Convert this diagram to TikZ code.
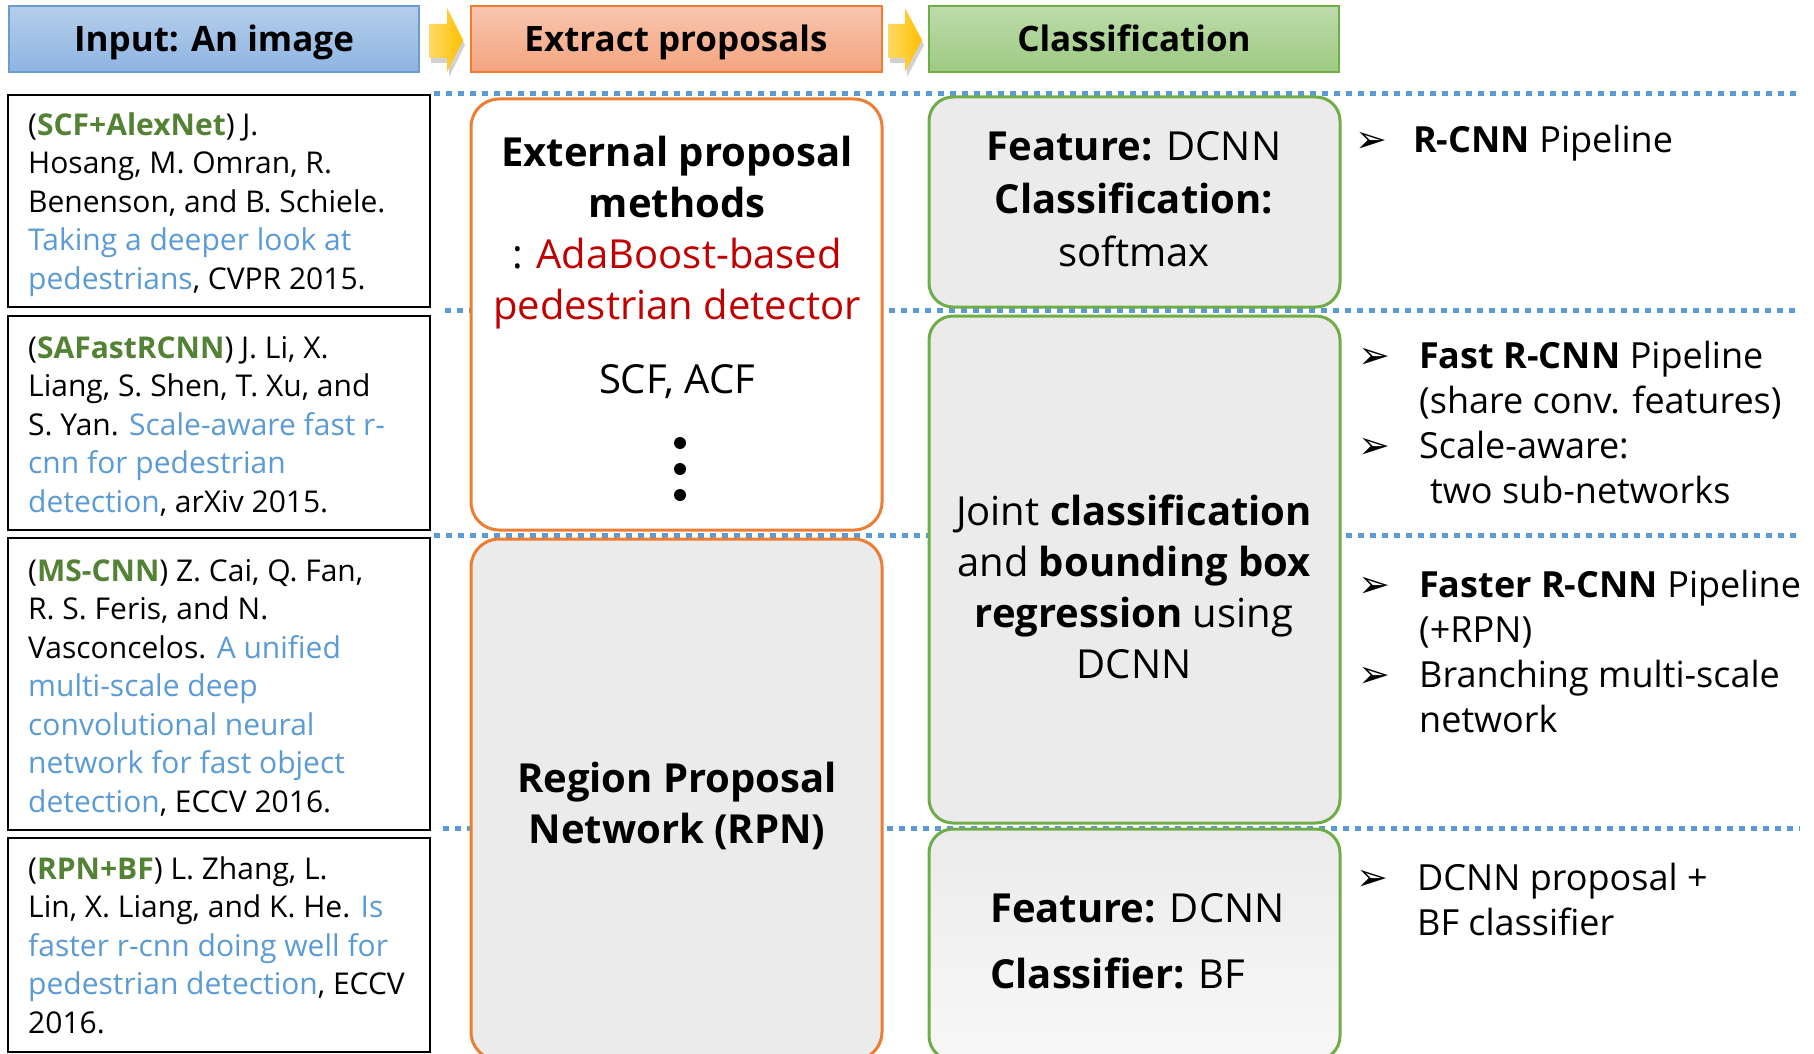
\documentclass[tikz,border=0pt]{standalone}
\usepackage{fontspec}
\setmainfont{Open Sans}
\newfontfamily\symfont{DejaVu Sans}
\definecolor{lnblue}{HTML}{5B9BD5}
\definecolor{citegreen}{HTML}{548235}
\definecolor{linkblue}{HTML}{5B9BD5}
\definecolor{adared}{HTML}{C00000}
\definecolor{orng}{HTML}{ED7D31}
\definecolor{grn}{HTML}{70AD47}
\definecolor{boxgray}{HTML}{EBEBEB}
\definecolor{hblueT}{HTML}{B5CEEB}
\definecolor{hblueB}{HTML}{8EB4E2}
\definecolor{hblueD}{HTML}{6C9BD2}
\definecolor{horT}{HTML}{F8C6AF}
\definecolor{horB}{HTML}{F4A47F}
\definecolor{hgrT}{HTML}{BDDBAB}
\definecolor{hgrB}{HTML}{9DCA82}
\definecolor{arL}{HTML}{FFD966}
\definecolor{arR}{HTML}{FFC000}
\newcommand{\lk}[1]{\textcolor{linkblue}{#1}}
\newcommand{\gk}[1]{\textcolor{citegreen}{\textbf{#1}}}
\begin{document}
\begin{tikzpicture}[x=1pt,y=-1pt,
  sepline/.style={draw=lnblue, line width=5, dash pattern=on 6 off 6},
  hdr/.style={anchor=north west, outer sep=0, inner sep=0, line width=1.5},
  hdrtext/.style={anchor=base, font=\fontsize{35}{44}\selectfont\bfseries},
  citebox/.style={draw=black, line width=2, anchor=north west, outer sep=0, inner sep=0},
  citetext/.style={anchor=north west, inner sep=0, align=left, font=\fontsize{30}{38.5}\selectfont},
  propbox/.style={draw=orng, line width=3, rounded corners=28, anchor=north west, outer sep=0, inner sep=0},
  clsbox/.style={draw=grn, line width=3, rounded corners=24, anchor=north west, outer sep=0, inner sep=0},
  bigtext/.style={inner sep=0, font=\fontsize{40}{51}\selectfont},
  bultext/.style={anchor=north west, inner sep=0, align=left, font=\fontsize{36}{45}\selectfont},
  bulmark/.style={anchor=base west, inner sep=0, font=\symfont\fontsize{38}{40}\selectfont},
  arrowfill/.style={left color=arL, right color=arR, draw=none},
  arrowshadow/.style={fill=black, opacity=0.18, draw=none}
]
\useasboundingbox (0,0) rectangle (1814,1054);
\fill[white] (0,0) rectangle (1814,1054);

% separator lines (behind boxes)
\draw[sepline] (434,94) -- (1800,94);
\draw[sepline] (445,310) -- (1800,310);
\draw[sepline] (434,535) -- (1800,535);
\draw[sepline] (443,828) -- (1800,828);

% header boxes
\node[hdr, draw=hblueD, top color=hblueT, bottom color=hblueB, minimum width=410, minimum height=66] (h1) at (9,6) {};
\node[hdr, draw=orng, top color=horT, bottom color=horB, minimum width=411, minimum height=66] (h2) at (471,6) {};
\node[hdr, draw=grn, top color=hgrT, bottom color=hgrB, minimum width=410, minimum height=66] (h3) at (929,6) {};
\node[hdrtext] (h1t) at (214,52) {Input: An image};
\node[hdrtext] (h2t) at (676,52) {Extract proposals};
\node[hdrtext] (h3t) at (1134,52) {Classification};

% header arrows
\path[arrowshadow] (431,29) -- (449,29) -- (449,13) -- (465,45) -- (449,77) -- (449,63) -- (431,63) -- cycle;
\path[arrowfill] (429,24) -- (447,24) -- (447,8) -- (463,40) -- (447,72) -- (447,58) -- (429,58) -- cycle;
\path[arrowshadow] (890,29) -- (907,29) -- (907,13) -- (924,45) -- (907,77) -- (907,63) -- (890,63) -- cycle;
\path[arrowfill] (888,24) -- (905,24) -- (905,8) -- (922,40) -- (905,72) -- (905,58) -- (888,58) -- cycle;

% citation boxes
\node[citebox, minimum width=422, minimum height=212] (c1) at (8,95) {};
\node[citebox, minimum width=422, minimum height=214] (c2) at (8,316) {};
\node[citebox, minimum width=422, minimum height=292] (c3) at (8,538) {};
\node[citebox, minimum width=422, minimum height=214] (c4) at (8,838) {};

\node[citetext] (c1t) at (28,110) {\rule{0pt}{25pt}(\gk{SCF+AlexNet}) J.\\
Hosang, M. Omran, R.\\
Benenson, and B. Schiele.\\
\lk{Taking a deeper look at}\\
\lk{pedestrians}, CVPR 2015.};
\node[citetext] (c2t) at (28,333) {\rule{0pt}{25pt}(\gk{SAFastRCNN}) J. Li, X.\\
Liang, S. Shen, T. Xu, and\\
S. Yan. \lk{Scale-aware fast r-}\\
\lk{cnn for pedestrian}\\
\lk{detection}, arXiv 2015.};
\node[citetext] (c3t) at (28,556) {\rule{0pt}{25pt}(\gk{MS-CNN}) Z. Cai, Q. Fan,\\
R. S. Feris, and N.\\
Vasconcelos. \lk{A unified}\\
\lk{multi-scale deep}\\
\lk{convolutional neural}\\
\lk{network for fast object}\\
\lk{detection}, ECCV 2016.};
\node[citetext] (c4t) at (28,854) {\rule{0pt}{25pt}(\gk{RPN+BF}) L. Zhang, L.\\
Lin, X. Liang, and K. He. \lk{Is}\\
\lk{faster r-cnn doing well for}\\
\lk{pedestrian detection}, ECCV\\
2016.};

% proposal boxes
\node[propbox, fill=white, minimum width=411, minimum height=431] (ext) at (471,99) {};
\node[propbox, fill=boxgray, minimum width=411, minimum height=521] (rpn) at (471,539) {};
\node[bigtext, anchor=north, align=center] (extt) at (677,134) {\rule{0pt}{32pt}\textbf{External proposal}\\
\textbf{methods}\\
: \textcolor{adared}{AdaBoost-based}\\
\textcolor{adared}{pedestrian detector}};
\node[bigtext, anchor=base] (scf) at (677,393) {SCF, ACF};
\fill (680,443) circle (6);
\fill (680,469) circle (6);
\fill (680,495) circle (6);
\node[bigtext, anchor=north, align=center] (rpnt) at (677,760) {\rule{0pt}{32pt}\textbf{Region Proposal}\\
\textbf{Network (RPN)}};

% classification boxes
\node[clsbox, fill=boxgray, minimum width=411, minimum height=210] (ca) at (929,97) {};
\node[clsbox, fill=boxgray, minimum width=411, minimum height=507] (cb) at (929,316) {};
\node[clsbox, top color=boxgray, bottom color=white!97!black, minimum width=411, minimum height=231] (cc) at (929,829) {};
\node[bigtext, anchor=north, align=center, font=\fontsize{40}{53}\selectfont] (cat) at (1134,128) {\rule{0pt}{32pt}\textbf{Feature:} DCNN\\
\textbf{Classification:}\\
softmax};
\node[bigtext, anchor=north, align=center] (cbt) at (1134,493) {\rule{0pt}{32pt}Joint \textbf{classification}\\
and \textbf{bounding box}\\
\textbf{regression} using\\
DCNN};
\node[bigtext, anchor=north west, align=left, font=\fontsize{40}{66}\selectfont] (cct) at (990,890) {\rule{0pt}{32pt}\textbf{Feature:} DCNN\\
\textbf{Classifier:} BF};

% bullets
\node[bulmark] (b1) at (1355,152) {➢};
\node[bultext] (b1t) at (1413,123) {\rule{0pt}{29pt}\textbf{R-CNN} Pipeline};
\node[bulmark] (b2) at (1358,368) {➢};
\node[bultext] (b2t) at (1419,339) {\rule{0pt}{29pt}\textbf{Fast R-CNN} Pipeline\\
(share conv. features)};
\node[bulmark] (b3) at (1358,458) {➢};
\node[bultext] (b3t) at (1419,429) {\rule{0pt}{29pt}Scale-aware:\\
\hspace*{11pt}two sub-networks};
\node[bulmark] (b4) at (1358,597) {➢};
\node[bultext] (b4t) at (1419,568) {\rule{0pt}{29pt}\textbf{Faster R-CNN} Pipeline\\
(+RPN)};
\node[bulmark] (b5) at (1358,687) {➢};
\node[bultext] (b5t) at (1419,658) {\rule{0pt}{29pt}Branching multi-scale\\
network};
\node[bulmark] (b6) at (1356,890) {➢};
\node[bultext] (b6t) at (1417,861) {\rule{0pt}{29pt}DCNN proposal +\\
BF classifier};
\end{tikzpicture}
\end{document}
